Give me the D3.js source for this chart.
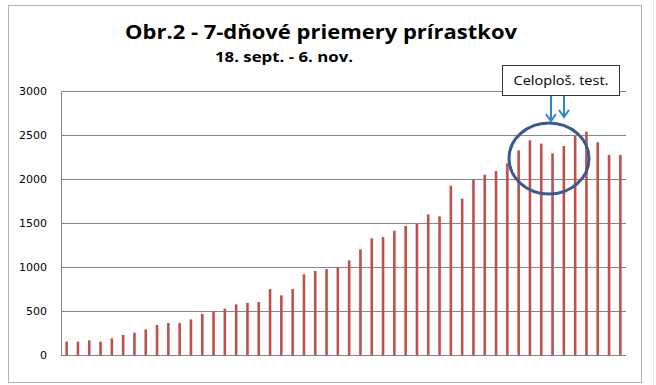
<!DOCTYPE html>
<html>
<head>
<meta charset="utf-8">
<script src="https://cdn.jsdelivr.net/npm/d3@7"></script>
<style>
  body { margin: 0; background: #fff; }
  svg { display: block; }
</style>
</head>
<body>
<svg width="656" height="385"></svg>
<script>
var svg = d3.select("svg"),
    width = +svg.attr("width"),
    height = +svg.attr("height");

// 7-day averages of daily increments, 18 Sep - 6 Nov
var days = d3.timeDay.range(new Date(2020, 8, 18), new Date(2020, 10, 7));
var averages = [
  152, 152, 167, 152, 189, 227, 254, 292, 341, 364,
  364, 405, 466, 500, 527, 576, 591, 602, 750, 678,
  750, 917, 955, 977, 997, 1076, 1201, 1326, 1341, 1413,
  1466, 1489, 1598, 1576, 1924, 1777, 1992, 2049, 2091, 2178,
  2326, 2439, 2402, 2292, 2375, 2492, 2538, 2417, 2273, 2273
];
var yTicks = [0, 500, 1000, 1500, 2000, 2500, 3000];

var title = "Obr.2 - 7-dňové priemery prírastkov",
    subtitle = "18. sept. - 6. nov.",
    note = "Celoploš. test.";

var x = d3.scaleBand()
    .domain(days.map(function(d) { return +d; }))
    .range([61, 626]);

var y = d3.scaleLinear()
    .domain([0, 3000])
    .range([355, 91]);

// outer frame
svg.append("rect")
    .attr("x", 8.5).attr("y", 5.5)
    .attr("width", 633).attr("height", 377)
    .attr("fill", "#fff")
    .attr("stroke", "#b3b3b3");
svg.append("line")
    .attr("x1", 653.5).attr("x2", 653.5)
    .attr("y1", 0).attr("y2", height)
    .attr("stroke", "#e6e6e6");

// gridlines + axis labels
var grid = svg.append("g").attr("class", "grid");
grid.selectAll("line")
    .data(yTicks)
    .enter().append("line")
    .attr("x1", 62).attr("x2", 626)
    .attr("y1", function(d) { return Math.round(y(d)) + 0.5; })
    .attr("y2", function(d) { return Math.round(y(d)) + 0.5; })
    .attr("stroke", "#868686");

svg.append("line")
    .attr("x1", 61.5).attr("x2", 61.5)
    .attr("y1", y(3000)).attr("y2", y(0) + 1)
    .attr("stroke", "#868686");

svg.append("g")
    .selectAll("text")
    .data(yTicks)
    .enter().append("text")
    .attr("x", 47)
    .attr("y", function(d) { return y(d); })
    .attr("dy", "0.35em")
    .attr("text-anchor", "end")
    .attr("font-family", "DejaVu Sans, Verdana, sans-serif")
    .attr("font-size", "11px")
    .attr("fill", "#000")
    .text(function(d) { return d; });

// bars
svg.append("g")
    .attr("class", "bars")
    .selectAll("rect")
    .data(averages)
    .enter().append("rect")
    .attr("x", function(d, i) { return x(+days[i]) + x.bandwidth() / 2 - 1.3; })
    .attr("width", 2.6)
    .attr("y", function(d) { return y(d); })
    .attr("height", function(d) { return y(0) - y(d); })
    .attr("fill", "#c0504d");

// titles
svg.append("text")
    .attr("x", 321).attr("y", 39)
    .attr("text-anchor", "middle")
    .attr("font-family", "Open Sans, sans-serif")
    .attr("font-weight", "bold")
    .attr("font-size", "19px")
    .attr("textLength", 392)
    .attr("lengthAdjust", "spacingAndGlyphs")
    .text(title);

svg.append("text")
    .attr("x", 284).attr("y", 62)
    .attr("text-anchor", "middle")
    .attr("font-family", "Open Sans, sans-serif")
    .attr("font-weight", "bold")
    .attr("font-size", "14px")
    .attr("textLength", 138)
    .attr("lengthAdjust", "spacingAndGlyphs")
    .text(subtitle);

// annotation: circle + arrows + box
svg.append("ellipse")
    .attr("cx", 549).attr("cy", 158.5)
    .attr("rx", 40).attr("ry", 35.5)
    .attr("fill", "none")
    .attr("stroke", "#3a5a8f")
    .attr("stroke-width", 3);

var arrows = [{x: 551, y2: 121}, {x: 564, y2: 117}];
svg.append("g")
    .selectAll("path")
    .data(arrows)
    .enter().append("path")
    .attr("d", function(d) {
      return "M" + d.x + ",95V" + d.y2 +
             "M" + (d.x - 5) + "," + (d.y2 - 7) + "L" + d.x + "," + d.y2 + "L" + (d.x + 5) + "," + (d.y2 - 7);
    })
    .attr("fill", "none")
    .attr("stroke", "#2b86cf")
    .attr("stroke-width", 2);

svg.append("rect")
    .attr("x", 502.5).attr("y", 65.5)
    .attr("width", 117).attr("height", 30)
    .attr("fill", "#fff")
    .attr("stroke", "#333")
    .attr("stroke-width", 1);

svg.append("text")
    .attr("x", 561).attr("y", 85)
    .attr("text-anchor", "middle")
    .attr("font-family", "Open Sans, sans-serif")
    .attr("font-size", "12.5px")
    .attr("textLength", 95)
    .attr("lengthAdjust", "spacingAndGlyphs")
    .text(note);
</script>
</body>
</html>
